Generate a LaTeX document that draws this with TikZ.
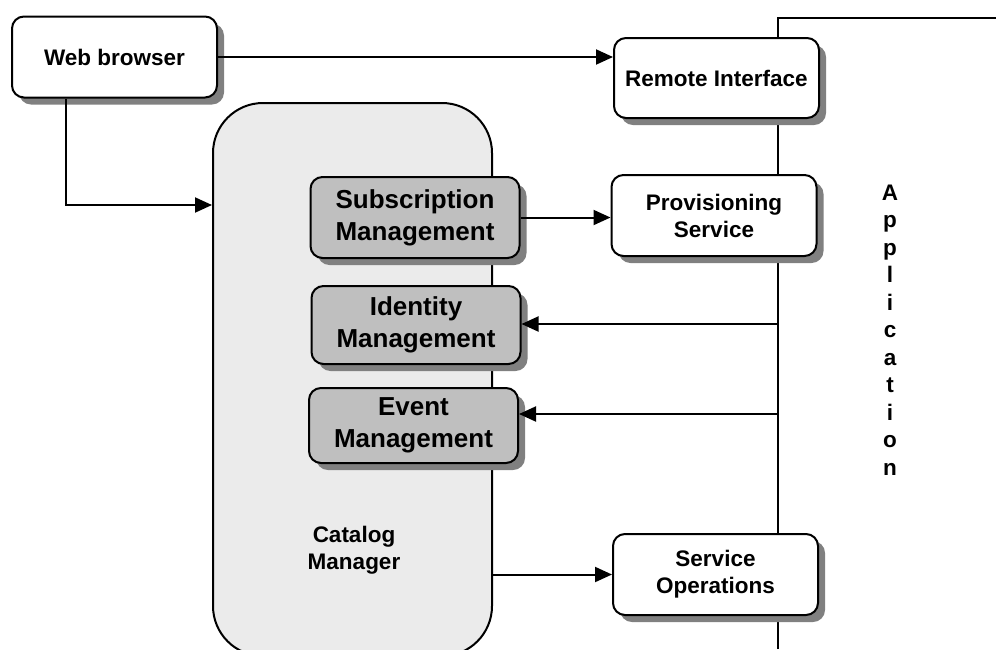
\documentclass[tikz,border=0pt]{standalone}
\usepackage{fontspec}
\setmainfont{Liberation Sans}
\usetikzlibrary{positioning, shadows, arrows.meta}

\begin{document}
\begin{tikzpicture}[
    x=1pt, y=-1pt,
    line width=2pt,
    font=\bfseries\fontsize{22.5}{27}\selectfont,
    box/.style={draw, rounded corners=12pt, fill=white, minimum width=205pt, minimum height=81pt, align=center, inner sep=2pt,
        drop shadow={shadow xshift=7pt, shadow yshift=-7pt, fill=black!50, opacity=1}},
    mgmt/.style={box, fill=black!25, minimum width=209pt, minimum height=78pt, font=\bfseries\fontsize{26}{32}\selectfont},
    every edge/.append style={-{Triangle[length=17pt, width=15pt]}}
]
   \useasboundingbox (0,0) rectangle (996,649);

   % Application bus
   \coordinate (bustop) at (778,18);
   \coordinate (busend) at (996,18);
   \coordinate (busbot) at (778,649);
   \draw (busbot) -- (bustop) -- (busend);

   % Catalog manager
   \node[draw, fill=black!8, rounded corners=50pt, minimum width=279pt, minimum height=553pt] (catalog) at (352.5,379.5) {};
   \node[align=center] (catlabel) at (354,550) {Catalog\\Manager};

   % Nodes
   \node[box] (web) at (114.5,57) {Web browser};
   \node[box, minimum height=80pt] (remote) at (716.5,78) {Remote Interface};
   \node[box] (prov) at (714,215.5) {Provisioning\\Service};
   \node[box] (ops) at (715.5,574.5) {Service\\Operations};
   \node[mgmt, minimum height=81pt] (sub) at (415,217.5) {Subscription\\Management};
   \node[mgmt] (ident) at (416,325) {Identity\\Management};
   \node[mgmt, minimum height=75pt] (event) at (413.5,425.5) {Event\\Management};
   \node[align=center, font=\bfseries\fontsize{22.5}{27.5}\selectfont] (app) at (890,330) {A\\p\\p\\l\\i\\c\\a\\t\\i\\o\\n};

   % Taps on the bus
   \coordinate (inY) at (0,205);
   \coordinate (tapI) at (778,324);
   \coordinate (tapE) at (778,414);

   % Connections
   \path
   (web.east) edge (web.east -| remote.west)
   (sub.east) edge (sub.east -| prov.west)
   (tapI) edge (tapI -| ident.east)
   (tapE) edge (tapE -| event.east)
   (ops.west -| catalog.east) edge (ops.west);
   \draw[-{Triangle[length=17pt, width=15pt]}] ([xshift=-48.5pt]web.south) |- (catalog.west |- inY);
\end{tikzpicture}
\end{document}
